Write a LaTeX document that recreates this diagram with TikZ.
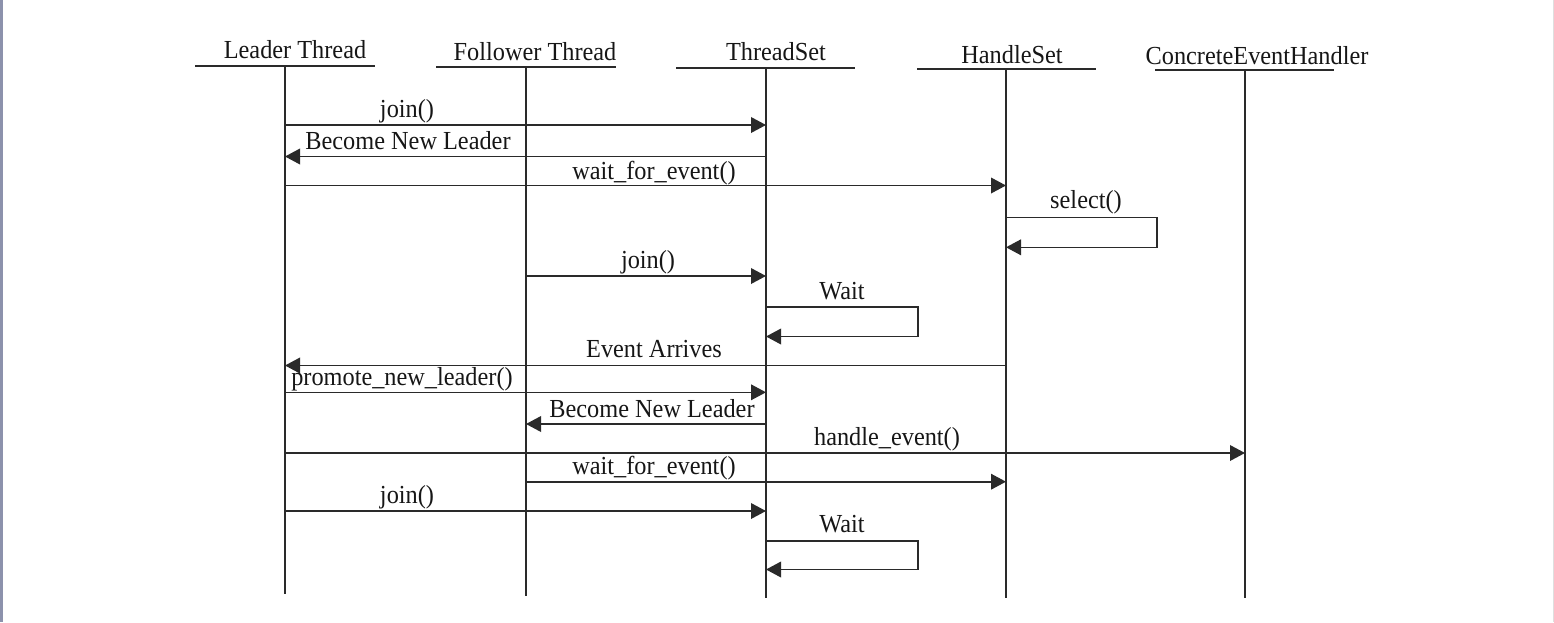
\documentclass[tikz,border=0pt]{standalone}
\usepackage{fontspec}
\setmainfont{Liberation Serif}[FakeStretch=0.935]
\usetikzlibrary{arrows.meta}
\definecolor{ink}{HTML}{161616}
\definecolor{lineink}{HTML}{2A2A2A}
\definecolor{edgeblue}{HTML}{8C92AC}
\begin{document}
\begin{tikzpicture}[x=0.5pt,y=-0.5pt,
  lbl/.style={font=\fontsize{13pt}{15pt}\selectfont, text=ink, inner sep=0pt, anchor=base},
  life/.style={draw=lineink, line width=0.75pt},
  headline/.style={draw=lineink, line width=0.9pt},
  msg/.style={draw=lineink, line width=0.8pt, -{Triangle[length=7.5pt,width=7.8pt]}}]
\useasboundingbox (0,0) rectangle (1554,622);
\fill[white] (0,0) rectangle (1554,622);
\fill[edgeblue] (0,0) rectangle (2.5,622);
\fill[gray!25] (1552.5,0) rectangle (1554,622);

% headers
\node[lbl] (hL) at (295,58) {Leader Thread};
\node[lbl] (hF) at (535,60) {Follower Thread};
\node[lbl] (hT) at (776,60) {ThreadSet};
\node[lbl] (hH) at (1012,63) {HandleSet};
\node[lbl] (hC) at (1257,64) {ConcreteEventHandler};
\draw[headline] (195,66) -- (375,66);
\draw[headline] (436,67) -- (616,67);
\draw[headline] (676,68) -- (855,68);
\draw[headline] (917,69) -- (1096,69);
\draw[headline] (1155,70) -- (1334,70);

% lifelines
\coordinate (L) at (285,66);   \coordinate (Lb) at (285,594);
\coordinate (F) at (526,67);   \coordinate (Fb) at (526,596);
\coordinate (T) at (766,68);   \coordinate (Tb) at (766,598);
\coordinate (H) at (1006,69);  \coordinate (Hb) at (1006,598);
\coordinate (C) at (1245,70);  \coordinate (Cb) at (1245,598);
\draw[life] (L) -- (Lb);
\draw[life] (F) -- (Fb);
\draw[life] (T) -- (Tb);
\draw[life] (H) -- (Hb);
\draw[life] (C) -- (Cb);

% 1 join()
\coordinate (r1) at (0,125);
\draw[msg] (L |- r1) -- (T |- r1);
\node[lbl] (t1) at (407,117) {join()};
% 2 Become New Leader
\coordinate (r2) at (0,156.5);
\draw[msg] (T |- r2) -- (L |- r2);
\node[lbl] (t2) at (408,149) {Become New Leader};
% 3 wait_for_event()
\coordinate (r3) at (0,185.5);
\draw[msg] (L |- r3) -- (H |- r3);
\node[lbl] (t3) at (654,179) {wait\_for\_event()};
% 4 select()
\coordinate (r4a) at (1157,217.5);
\coordinate (r4b) at (1157,247.3);
\draw[msg] (H |- r4a) -- (r4a) -- (r4b) -- (H |- r4b);
\node[lbl] (t4) at (1086,208) {select()};
% 5 join()
\coordinate (r5) at (0,276);
\draw[msg] (F |- r5) -- (T |- r5);
\node[lbl] (t5) at (648,268) {join()};
% 6 Wait
\coordinate (r6a) at (917.7,306.7);
\coordinate (r6b) at (917.7,336.5);
\draw[msg] (T |- r6a) -- (r6a) -- (r6b) -- (T |- r6b);
\node[lbl] (t6) at (842,299) {Wait};
% 7 Event Arrives
\coordinate (r7) at (0,365.5);
\draw[msg] (H |- r7) -- (L |- r7);
\node[lbl] (t7) at (654,357) {Event Arrives};
% 8 promote_new_leader()
\coordinate (r8) at (0,392.3);
\draw[msg] (L |- r8) -- (T |- r8);
\node[lbl] (t8) at (402,385) {promote\_new\_leader()};
% 9 Become New Leader
\coordinate (r9) at (0,424);
\draw[msg] (T |- r9) -- (F |- r9);
\node[lbl] (t9) at (652,417) {Become New Leader};
% 10 handle_event()
\coordinate (r10) at (0,453);
\draw[msg] (L |- r10) -- (C |- r10);
\node[lbl] (t10) at (887,445) {handle\_event()};
% 11 wait_for_event()
\coordinate (r11) at (0,481.7);
\draw[msg] (F |- r11) -- (H |- r11);
\node[lbl] (t11) at (654,474) {wait\_for\_event()};
% 12 join()
\coordinate (r12) at (0,511);
\draw[msg] (L |- r12) -- (T |- r12);
\node[lbl] (t12) at (407,503) {join()};
% 13 Wait
\coordinate (r13a) at (918,541);
\coordinate (r13b) at (918,569.5);
\draw[msg] (T |- r13a) -- (r13a) -- (r13b) -- (T |- r13b);
\node[lbl] (t13) at (842,532) {Wait};
\end{tikzpicture}
\end{document}
